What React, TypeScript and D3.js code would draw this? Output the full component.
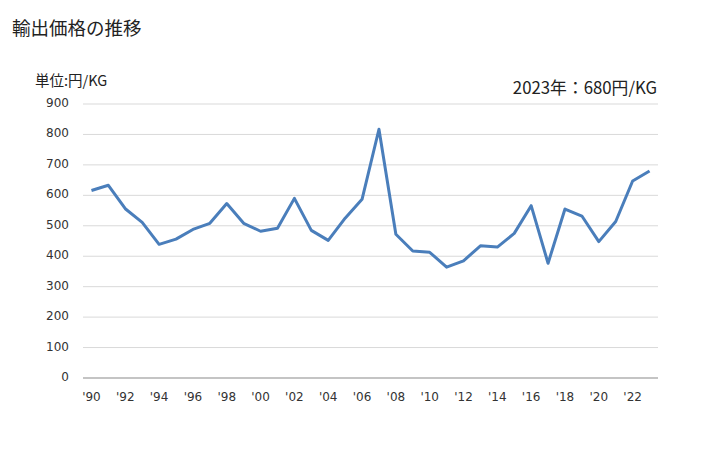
import React from "react";
import * as d3 from "d3";

const years: number[] = [
  1990, 1991, 1992, 1993, 1994, 1995, 1996, 1997, 1998, 1999,
  2000, 2001, 2002, 2003, 2004, 2005, 2006, 2007, 2008, 2009,
  2010, 2011, 2012, 2013, 2014, 2015, 2016, 2017, 2018, 2019,
  2020, 2021, 2022, 2023,
];
const prices: number[] = [
  616, 633, 556, 511, 439, 456, 488, 508, 573, 508,
  482, 492, 590, 485, 452, 525, 587, 817, 472, 417,
  413, 364, 385, 434, 430, 475, 566, 377, 555, 532,
  448, 514, 647, 680,
];
const yTicks: number[] = [0, 100, 200, 300, 400, 500, 600, 700, 800, 900];
const title = "輸出価格の推移";
const unitLabel = "単位:円/KG";
const latestLabel = "2023年：680円/KG";

const W = 728;
const H = 450;
const left = 83;
const right = 658;
const top = 104;
const bottom = 378;

export default function App() {
  const x = d3
    .scaleBand<number>()
    .domain(years)
    .range([left, right])
    .padding(0);
  const y = d3.scaleLinear().domain([0, 900]).range([bottom, top]);
  const cx = (yr: number) => (x(yr) as number) + x.bandwidth() / 2;

  const line = d3
    .line<number>()
    .x((_, i) => cx(years[i]))
    .y((d) => y(d));

  const jp = "'Noto Sans CJK JP', 'Noto Sans', sans-serif";
  const num = "'DejaVu Sans', Verdana, sans-serif";

  return (
    <svg
      width={W}
      height={H}
      style={{ position: "absolute", left: 0, top: 0, background: "#fff" }}
    >
      <text x={12} y={35} fontFamily={jp} fontSize={18.5} fill="#222">
        {title}
      </text>
      <text x={35} y={86} fontFamily={jp} fontSize={14.5} fill="#222">
        {unitLabel}
      </text>
      <text
        x={657}
        y={94}
        textAnchor="end"
        fontFamily={jp}
        fontSize={16.8}
        fill="#222"
      >
        {latestLabel}
      </text>
      {yTicks.map((t) => (
        <g key={t}>
          {t > 0 && (
            <line
              x1={left}
              x2={right}
              y1={y(t)}
              y2={y(t)}
              stroke="#d9d9d9"
              strokeWidth={1}
            />
          )}
          <text
            x={69}
            y={y(t) + 3}
            textAnchor="end"
            fontFamily={num}
            fontSize={12}
            fill="#333"
          >
            {t}
          </text>
        </g>
      ))}
      <line
        x1={left}
        x2={right}
        y1={y(0)}
        y2={y(0)}
        stroke="#898989"
        strokeWidth={1}
      />
      {years
        .filter((yr) => yr % 2 === 0)
        .map((yr) => (
          <text
            key={yr}
            x={cx(yr)}
            y={401}
            textAnchor="middle"
            fontFamily={num}
            fontSize={12}
            fill="#333"
          >
            {"'" + String(yr).slice(2)}
          </text>
        ))}
      <path
        d={line(prices) || ""}
        fill="none"
        stroke="#4a7ebb"
        strokeWidth={3}
        strokeLinejoin="round"
      />
    </svg>
  );
}
